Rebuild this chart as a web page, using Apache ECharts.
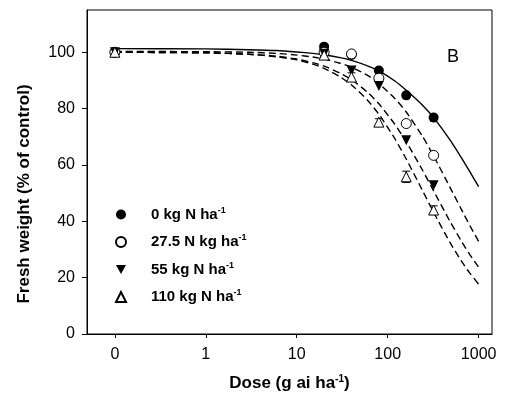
<!DOCTYPE html>
<html><head><meta charset="utf-8">
<script src="https://cdn.jsdelivr.net/npm/echarts@6/dist/echarts.min.js"></script>
<style>html,body{margin:0;padding:0;background:#fff}#c{width:508px;height:415px}</style>
</head><body><div id="c"></div>
<script>
// ---- data ----
const doses = [0, 20, 40, 80, 160, 320];          // g ai ha-1 ("0" sits at the 0.1 position of the log axis)
const ZERO_AT = 0.1;
const n0   = [100, 102, 99, 93.5, 84.7, 76.8];    // 0 kg N ha-1 (filled circle)
const n27  = [100, 100, 99.4, 90.8, 74.7, 63.4];  // 27.5 N kg ha-1 (open circle)
const n55  = [100, 99.5, 93.5, 88.0, 68.8, 52.8]; // 55 kg N ha-1 (filled down triangle)
const n110 = [100, 99, 91.2, 75.2, 55.8, 44.0];   // 110 kg N ha-1 (open triangle)
const err110 = [0, 0.5, 1.5, 1.2, 2.0, 1.5];

// fitted dose-response curves
const curveDoses = [0.1, 1, 3, 6, 10, 15, 20, 30, 40, 60, 80, 120, 160, 240, 320, 480, 640, 800, 1000];
const fit0   = [101.3, 101.2, 100.9, 100.6, 100.1, 99.6, 99.1, 98.1, 97.1, 95.2, 93.4, 89.8, 86.5, 81.3, 76.8, 69.1, 62.8, 57.6, 52.3];
const fit27  = [100.3, 100.2, 100.0, 99.6, 99.0, 98.3, 97.6, 96.1, 94.7, 91.8, 88.9, 83.6, 78.8, 70.3, 63.2, 52.3, 44.5, 38.5, 32.9];
const fit55  = [100.0, 99.8, 99.3, 98.6, 97.6, 96.3, 95.1, 92.6, 90.3, 85.8, 81.7, 74.4, 68.2, 58.3, 50.8, 40.2, 33.2, 28.2, 23.7];
const fit110 = [100.0, 99.8, 99.3, 98.4, 97.3, 95.8, 94.3, 91.3, 88.4, 83.0, 78.0, 69.3, 62.1, 51.1, 43.2, 32.7, 26.1, 21.6, 17.7];

const xTicks = [0.1, 1, 10, 100, 1000];
const xTickLabels = ['0', '1', '10', '100', '1000'];
const yTicks = [0, 20, 40, 60, 80, 100];
const names = ['0 kg N ha', '27.5 N kg ha', '55 kg N ha', '110 kg N ha'];

// ---- build ----
const FONT = 'Liberation Sans, Arial, sans-serif';
const px = d => d === 0 ? ZERO_AT : d;
const pts = arr => doses.map((d, i) => [px(d), arr[i]]);
const curve = arr => curveDoses.map((d, i) => [d, arr[i]]);
const downTri = 'path://M0,0 L10,0 L5,9 Z';

function fitSeries(arr, dashed) {
  return {
    type: 'line', data: curve(arr), showSymbol: false, symbol: 'none',
    smooth: 0.2, silent: true, z: 1,
    lineStyle: { color: '#000', width: 1.4, type: dashed ? [7, 4] : 'solid' }
  };
}
function scatterSeries(name, arr, symbol, filled, size) {
  return {
    type: 'scatter', name, data: pts(arr), symbol, symbolSize: size, z: 3,
    itemStyle: { color: filled ? '#000' : '#fff', borderColor: '#000', borderWidth: filled ? 0 : 1, opacity: 1 }
  };
}

const errData = doses.map((d, i) => [px(d), n110[i] - err110[i], n110[i] + err110[i]]);

const option = {
  backgroundColor: '#fff',
  animation: false,
  grid: { left: 87, right: 16, top: 10, bottom: 81, show: true, borderColor: '#000', borderWidth: 1, backgroundColor: 'transparent' },
  xAxis: {
    type: 'log', logBase: 10, min: 0.0494, max: 1403,
    name: 'Dose (g ai ha{sup|-1})', nameLocation: 'middle', nameGap: 40,
    nameTextStyle: { fontFamily: FONT, fontWeight: 'bold', fontSize: 17, color: '#000',
      rich: { sup: { fontFamily: FONT, fontWeight: 'bold', fontSize: 10, color: '#000', padding: [0, 0, 9, 0] } } },
    axisLine: { show: true, lineStyle: { color: '#000', width: 1 } },
    axisTick: { show: true, length: 4, inside: false, customValues: xTicks, lineStyle: { color: '#000' } },
    minorTick: { show: false },
    splitLine: { show: false },
    axisLabel: { customValues: xTicks, margin: 13, fontFamily: FONT, fontSize: 16, color: '#000',
      formatter: v => { const i = xTicks.findIndex(t => Math.abs(Math.log10(t) - Math.log10(v)) < 1e-6); return i >= 0 ? xTickLabels[i] : ''; } }
  },
  yAxis: {
    type: 'value', min: 0, max: 115,
    axisLine: { show: true, lineStyle: { color: '#000', width: 1 } },
    axisTick: { show: true, length: 5, customValues: yTicks, lineStyle: { color: '#000' } },
    splitLine: { show: false },
    axisLabel: { customValues: yTicks, margin: 12, fontFamily: FONT, fontSize: 16, color: '#000' }
  },
  legend: {
    orient: 'vertical', left: 110, top: 201, itemWidth: 10, itemHeight: 10, itemGap: 11.5,
    data: names, selectedMode: false,
    formatter: n => n + '{sup|-1}',
    textStyle: { fontFamily: FONT, fontWeight: 'bold', fontSize: 15, color: '#000', padding: [0, 0, 0, 20],
      rich: { sup: { fontFamily: FONT, fontWeight: 'bold', fontSize: 9, color: '#000', padding: [0, 0, 8, 0] } } }
  },
  graphic: [
    { type: 'text', x: 24, y: 194, rotation: Math.PI / 2,
      style: { text: 'Fresh weight (% of control)', font: 'bold 17px ' + FONT, fill: '#000', textAlign: 'center', textVerticalAlign: 'middle' } },
    { type: 'text', x: 447, y: 57,
      style: { text: 'B', font: '18px ' + FONT, fill: '#000', textAlign: 'left', textVerticalAlign: 'middle' } }
  ],
  series: [
    fitSeries(fit0, false), fitSeries(fit27, true), fitSeries(fit55, true), fitSeries(fit110, true),
    scatterSeries(names[0], n0, 'circle', true, 10),
    scatterSeries(names[1], n27, 'circle', false, 10),
    scatterSeries(names[2], n55, downTri, true, 10),
    {
      type: 'custom', data: errData, z: 2, silent: true,
      renderItem: (params, api) => {
        const lo = api.coord([api.value(0), api.value(1)]);
        const hi = api.coord([api.value(0), api.value(2)]);
        const w = 4;
        return { type: 'group', children: [
          { type: 'line', shape: { x1: lo[0], y1: lo[1], x2: hi[0], y2: hi[1] }, style: { stroke: '#000', lineWidth: 1 } },
          { type: 'line', shape: { x1: lo[0] - w, y1: lo[1], x2: lo[0] + w, y2: lo[1] }, style: { stroke: '#000', lineWidth: 1 } },
          { type: 'line', shape: { x1: hi[0] - w, y1: hi[1], x2: hi[0] + w, y2: hi[1] }, style: { stroke: '#000', lineWidth: 1 } }
        ] };
      }
    },
    scatterSeries(names[3], n110, 'triangle', false, 10)
  ]
};
const chart = echarts.init(document.getElementById('c'), null, { renderer: 'canvas' });
chart.setOption(option);
</script></body></html>
